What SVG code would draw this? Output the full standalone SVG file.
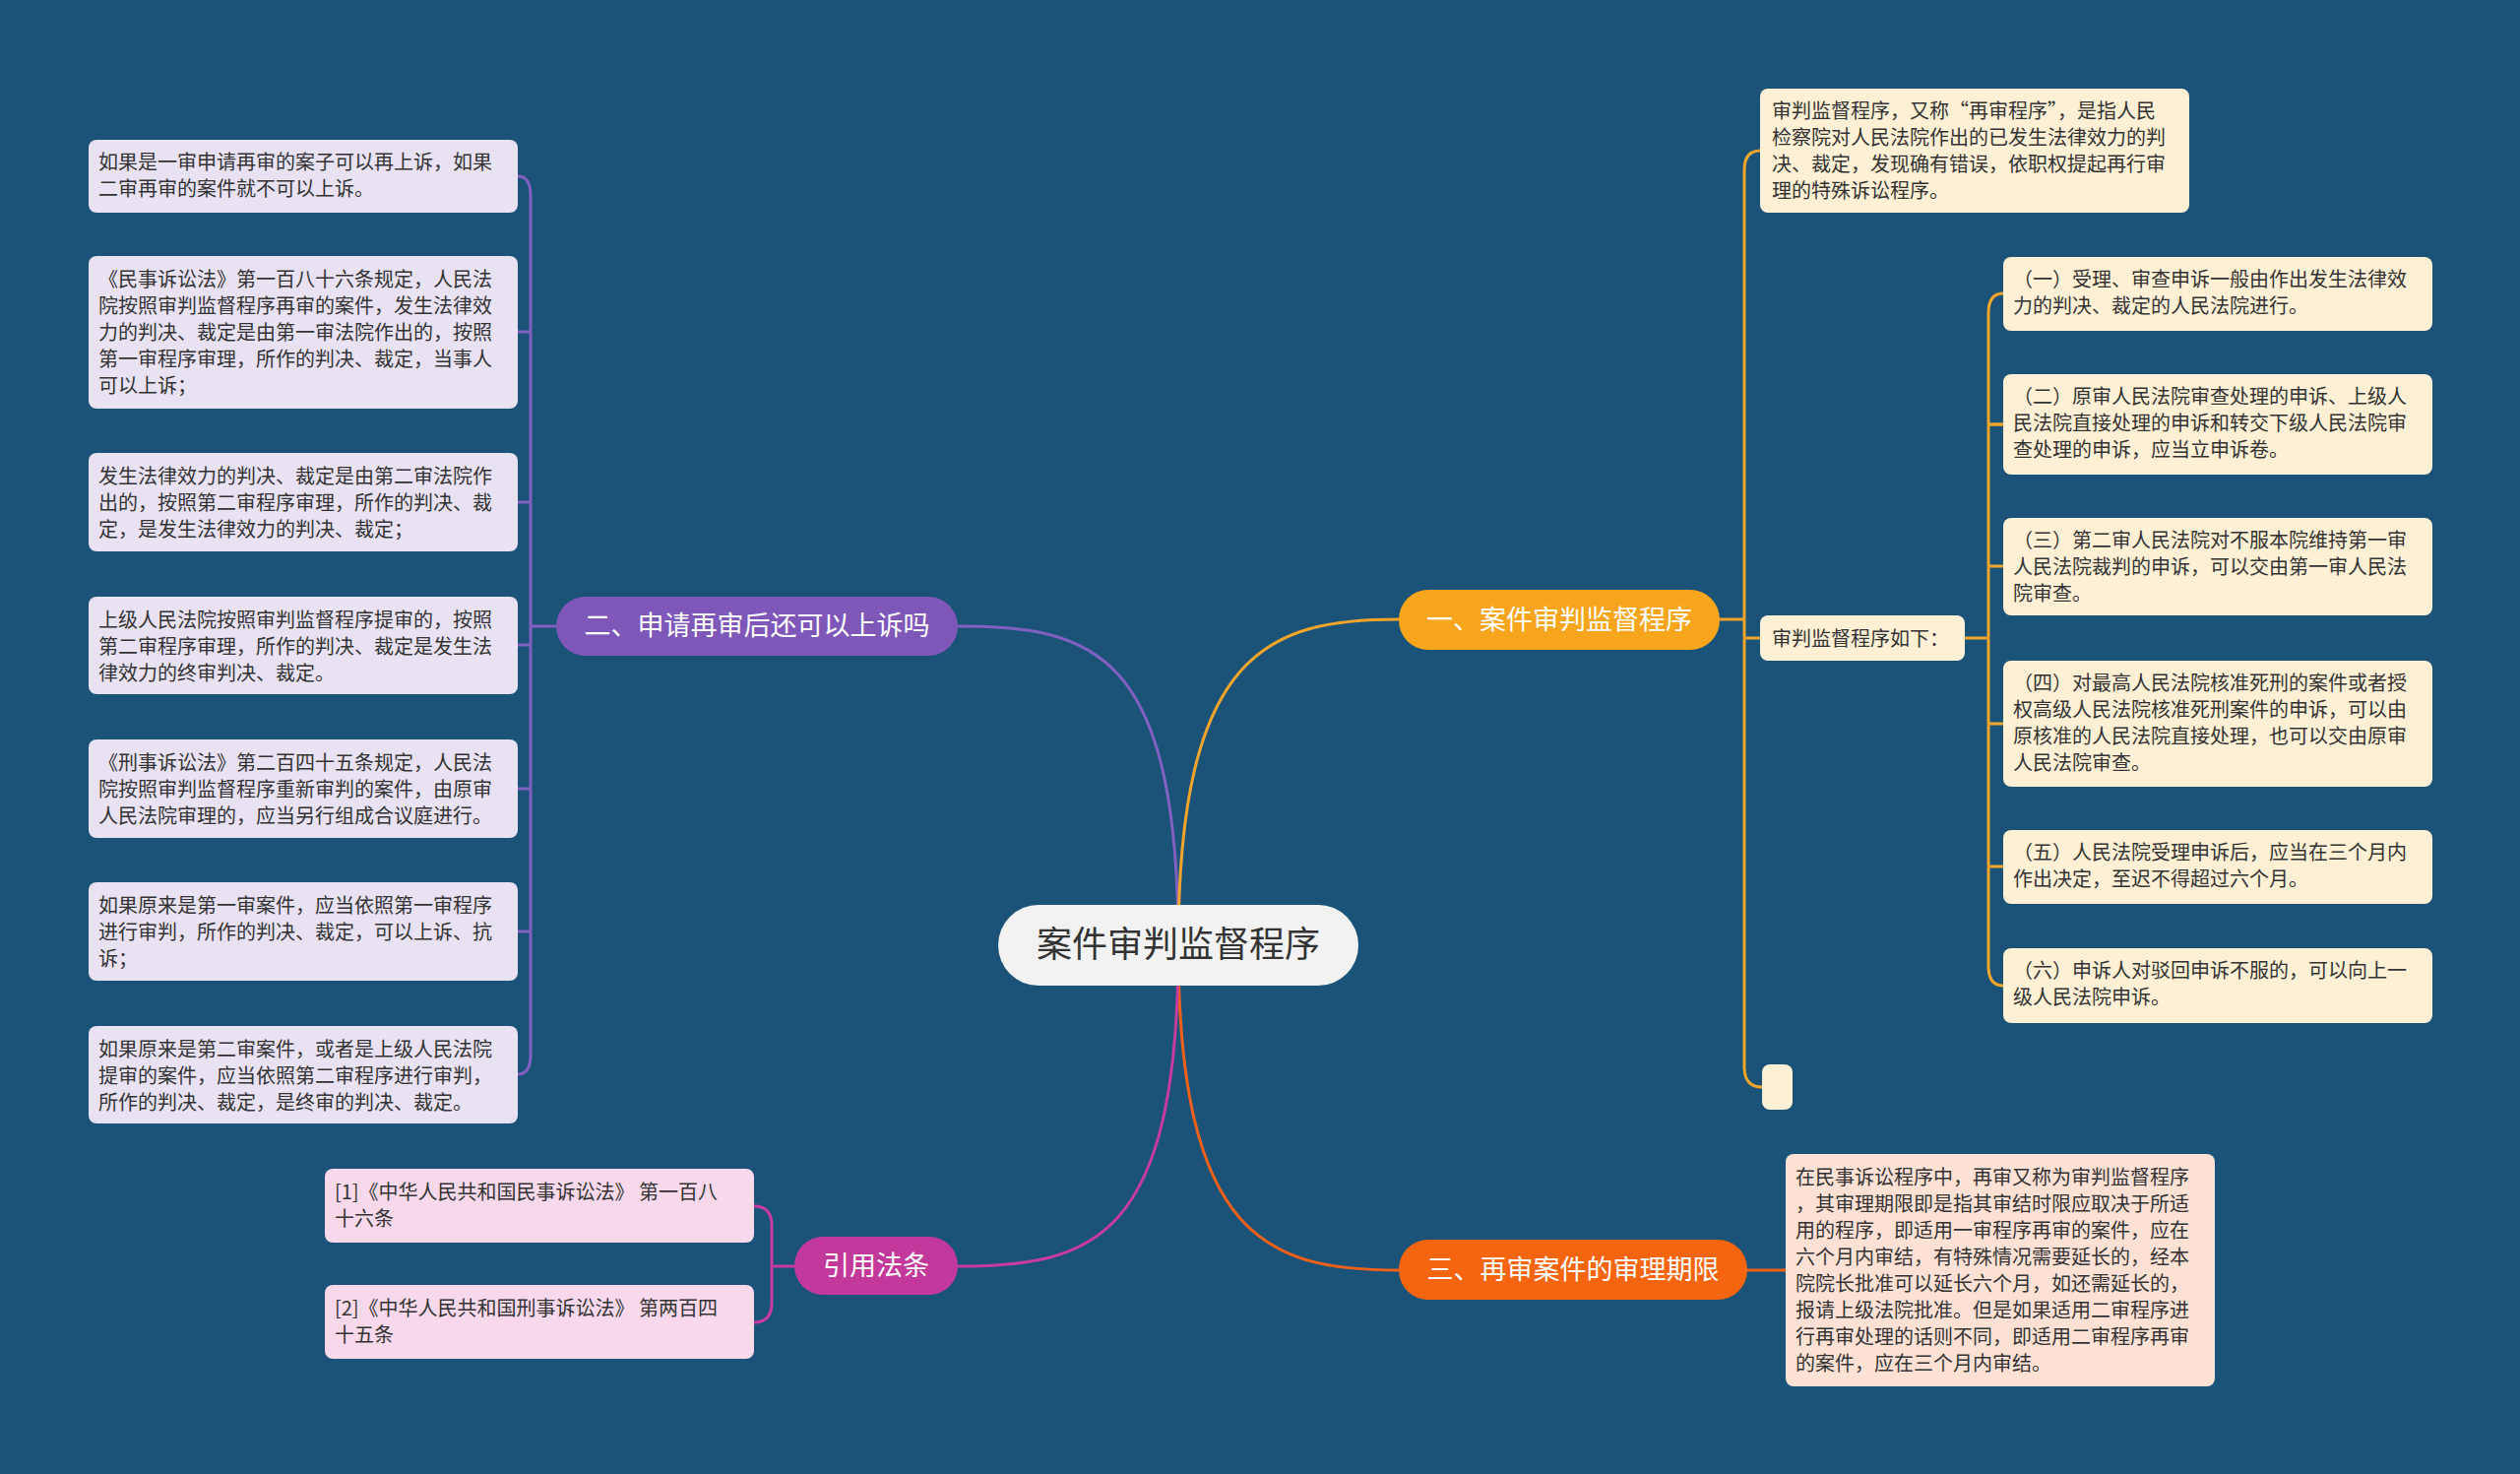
<svg xmlns="http://www.w3.org/2000/svg" width="2560" height="1497" viewBox="0 0 2560 1497">
<style>
.t{font-family:"Noto Sans CJK SC","Noto Sans",sans-serif;font-size:20px;fill:#333}
.bt{font-family:"Noto Sans CJK SC","Noto Sans",sans-serif;font-size:27px;fill:#fff}
.c{fill:none;stroke-width:3}
.o{stroke:#f2a52a}.p{stroke:#8060c0}.r{stroke:#f0601a}.m{stroke:#c63c9c}
.y{fill:#fdf0d4}.l{fill:#e8e2f3}.k{fill:#f7d9eb}.e{fill:#fde1d5}
</style>
<rect width="2560" height="1497" fill="#1b5378"/>
<g id="connectors">
<path class="c p" d="M1197 960 C1197 660,1110 636,973 636"/>
<path class="c o" d="M1197 960 C1197 660,1290 629,1421 629"/>
<path class="c r" d="M1197 960 C1197 1260,1290 1290,1421 1290"/>
<path class="c m" d="M1197 960 C1197 1260,1110 1286,973 1286"/>
<path class="c o" d="M1747 629 L1772 629"/>
<path class="c o" d="M1772 629 L1772 173 Q1772 153 1788 153"/>
<path class="c o" d="M1772 629 L1772 1084 Q1772 1104 1790 1104"/>
<path class="c o" d="M1772 648 L1788 648"/>
<path class="c o" d="M1996 648 L2020 648"/>
<path class="c o" d="M2020 648 L2020 318 Q2020 298 2035 298"/>
<path class="c o" d="M2020 431 Q2020 431 2035 431"/>
<path class="c o" d="M2020 648 L2020 981 Q2020 1001 2035 1001"/>
<path class="c o" d="M2020 431 Q2020 431 2035 431 M2020 575 L2035 575 M2020 735 L2035 735 M2020 880 L2035 880"/>
<path class="c r" d="M1775 1290 L1814 1290"/>
<path class="c p" d="M565 636 L539 636"/>
<path class="c p" d="M539 636 L539 199 Q539 179 526 179"/>
<path class="c p" d="M539 636 L539 1071 Q539 1091 526 1091"/>
<path class="c p" d="M539 337 L526 337 M539 510 L526 510 M539 655 L526 655 M539 801 L526 801 M539 946 L526 946"/>
<path class="c m" d="M807 1286 L784 1286"/>
<path class="c m" d="M784 1286 L784 1245 Q784 1225 766 1225 M784 1286 L784 1323 Q784 1343 766 1343"/>
</g>
<g id="center"><rect x="1014" y="919" width="366" height="82" rx="41" fill="#f2f2f2"/><text x="1197" y="972" text-anchor="middle" font-family="Noto Sans CJK SC,sans-serif" font-size="36" fill="#333">案件审判监督程序</text></g>
<g id="b1"><rect x="1421" y="599" width="326" height="61" rx="30" fill="#f7a51c"/><text class="bt" x="1584" y="639" text-anchor="middle">一、案件审判监督程序</text></g>
<g id="b2"><rect x="565" y="606" width="408" height="60" rx="30" fill="#7e57b8"/><text class="bt" x="769" y="645" text-anchor="middle">二、申请再审后还可以上诉吗</text></g>
<g id="b3"><rect x="1421" y="1259" width="354" height="61" rx="30" fill="#f5640f"/><text class="bt" x="1598" y="1299" text-anchor="middle">三、再审案件的审理期限</text></g>
<g id="b4"><rect x="807" y="1256" width="166" height="59" rx="29" fill="#c2399b"/><text class="bt" x="890" y="1295" text-anchor="middle">引用法条</text></g>
<g id="r1"><rect class="y" x="1788" y="90" width="436" height="126" rx="8"/><text class="t"><tspan x="1800" y="120">审判监督程序，又称“再审程序”，是指人民</tspan><tspan x="1800" y="147">检察院对人民法院作出的已发生法律效力的判</tspan><tspan x="1800" y="174">决、裁定，发现确有错误，依职权提起再行审</tspan><tspan x="1800" y="201">理的特殊诉讼程序。</tspan></text></g>
<g id="r2"><rect class="y" x="1788" y="625" width="208" height="46" rx="8"/><text class="t" x="1800" y="656">审判监督程序如下：</text></g>
<g id="r3"><rect class="y" x="1790" y="1081" width="31" height="46" rx="8"/></g>
<g id="s1"><rect class="y" x="2035" y="261" width="436" height="75" rx="8"/><text class="t"><tspan x="2045" y="291">（一）受理、审查申诉一般由作出发生法律效</tspan><tspan x="2045" y="318">力的判决、裁定的人民法院进行。</tspan></text></g>
<g id="s2"><rect class="y" x="2035" y="380" width="436" height="102" rx="8"/><text class="t"><tspan x="2045" y="410">（二）原审人民法院审查处理的申诉、上级人</tspan><tspan x="2045" y="437">民法院直接处理的申诉和转交下级人民法院审</tspan><tspan x="2045" y="464">查处理的申诉，应当立申诉卷。</tspan></text></g>
<g id="s3"><rect class="y" x="2035" y="526" width="436" height="99" rx="8"/><text class="t"><tspan x="2045" y="556">（三）第二审人民法院对不服本院维持第一审</tspan><tspan x="2045" y="583">人民法院裁判的申诉，可以交由第一审人民法</tspan><tspan x="2045" y="610">院审查。</tspan></text></g>
<g id="s4"><rect class="y" x="2035" y="671" width="436" height="128" rx="8"/><text class="t"><tspan x="2045" y="701">（四）对最高人民法院核准死刑的案件或者授</tspan><tspan x="2045" y="728">权高级人民法院核准死刑案件的申诉，可以由</tspan><tspan x="2045" y="755">原核准的人民法院直接处理，也可以交由原审</tspan><tspan x="2045" y="782">人民法院审查。</tspan></text></g>
<g id="s5"><rect class="y" x="2035" y="843" width="436" height="75" rx="8"/><text class="t"><tspan x="2045" y="873">（五）人民法院受理申诉后，应当在三个月内</tspan><tspan x="2045" y="900">作出决定，至迟不得超过六个月。</tspan></text></g>
<g id="s6"><rect class="y" x="2035" y="963" width="436" height="76" rx="8"/><text class="t"><tspan x="2045" y="993">（六）申诉人对驳回申诉不服的，可以向上一</tspan><tspan x="2045" y="1020">级人民法院申诉。</tspan></text></g>
<g id="e1"><rect class="e" x="1814" y="1172" width="436" height="236" rx="8"/><text class="t"><tspan x="1824" y="1203">在民事诉讼程序中，再审又称为审判监督程序</tspan><tspan x="1824" y="1230">，其审理期限即是指其审结时限应取决于所适</tspan><tspan x="1824" y="1257">用的程序，即适用一审程序再审的案件，应在</tspan><tspan x="1824" y="1284">六个月内审结，有特殊情况需要延长的，经本</tspan><tspan x="1824" y="1311">院院长批准可以延长六个月，如还需延长的，</tspan><tspan x="1824" y="1338">报请上级法院批准。但是如果适用二审程序进</tspan><tspan x="1824" y="1365">行再审处理的话则不同，即适用二审程序再审</tspan><tspan x="1824" y="1392">的案件，应在三个月内审结。</tspan></text></g>
<g id="l1"><rect class="l" x="90" y="142" width="436" height="74" rx="8"/><text class="t"><tspan x="100" y="172">如果是一审申请再审的案子可以再上诉，如果</tspan><tspan x="100" y="199">二审再审的案件就不可以上诉。</tspan></text></g>
<g id="l2"><rect class="l" x="90" y="260" width="436" height="155" rx="8"/><text class="t"><tspan x="100" y="291">《民事诉讼法》第一百八十六条规定，人民法</tspan><tspan x="100" y="318">院按照审判监督程序再审的案件，发生法律效</tspan><tspan x="100" y="345">力的判决、裁定是由第一审法院作出的，按照</tspan><tspan x="100" y="372">第一审程序审理，所作的判决、裁定，当事人</tspan><tspan x="100" y="399">可以上诉；</tspan></text></g>
<g id="l3"><rect class="l" x="90" y="460" width="436" height="100" rx="8"/><text class="t"><tspan x="100" y="491">发生法律效力的判决、裁定是由第二审法院作</tspan><tspan x="100" y="518">出的，按照第二审程序审理，所作的判决、裁</tspan><tspan x="100" y="545">定，是发生法律效力的判决、裁定；</tspan></text></g>
<g id="l4"><rect class="l" x="90" y="606" width="436" height="99" rx="8"/><text class="t"><tspan x="100" y="637">上级人民法院按照审判监督程序提审的，按照</tspan><tspan x="100" y="664">第二审程序审理，所作的判决、裁定是发生法</tspan><tspan x="100" y="691">律效力的终审判决、裁定。</tspan></text></g>
<g id="l5"><rect class="l" x="90" y="751" width="436" height="100" rx="8"/><text class="t"><tspan x="100" y="782">《刑事诉讼法》第二百四十五条规定，人民法</tspan><tspan x="100" y="809">院按照审判监督程序重新审判的案件，由原审</tspan><tspan x="100" y="836">人民法院审理的，应当另行组成合议庭进行。</tspan></text></g>
<g id="l6"><rect class="l" x="90" y="896" width="436" height="100" rx="8"/><text class="t"><tspan x="100" y="927">如果原来是第一审案件，应当依照第一审程序</tspan><tspan x="100" y="954">进行审判，所作的判决、裁定，可以上诉、抗</tspan><tspan x="100" y="981">诉；</tspan></text></g>
<g id="l7"><rect class="l" x="90" y="1042" width="436" height="99" rx="8"/><text class="t"><tspan x="100" y="1073">如果原来是第二审案件，或者是上级人民法院</tspan><tspan x="100" y="1100">提审的案件，应当依照第二审程序进行审判，</tspan><tspan x="100" y="1127">所作的判决、裁定，是终审的判决、裁定。</tspan></text></g>
<g id="c1"><rect class="k" x="330" y="1187" width="436" height="75" rx="8"/><text class="t"><tspan x="340" y="1218">[1]《中华人民共和国民事诉讼法》 第一百八</tspan><tspan x="340" y="1245">十六条</tspan></text></g>
<g id="c2"><rect class="k" x="330" y="1305" width="436" height="75" rx="8"/><text class="t"><tspan x="340" y="1336">[2]《中华人民共和国刑事诉讼法》 第两百四</tspan><tspan x="340" y="1363">十五条</tspan></text></g>
</svg>
